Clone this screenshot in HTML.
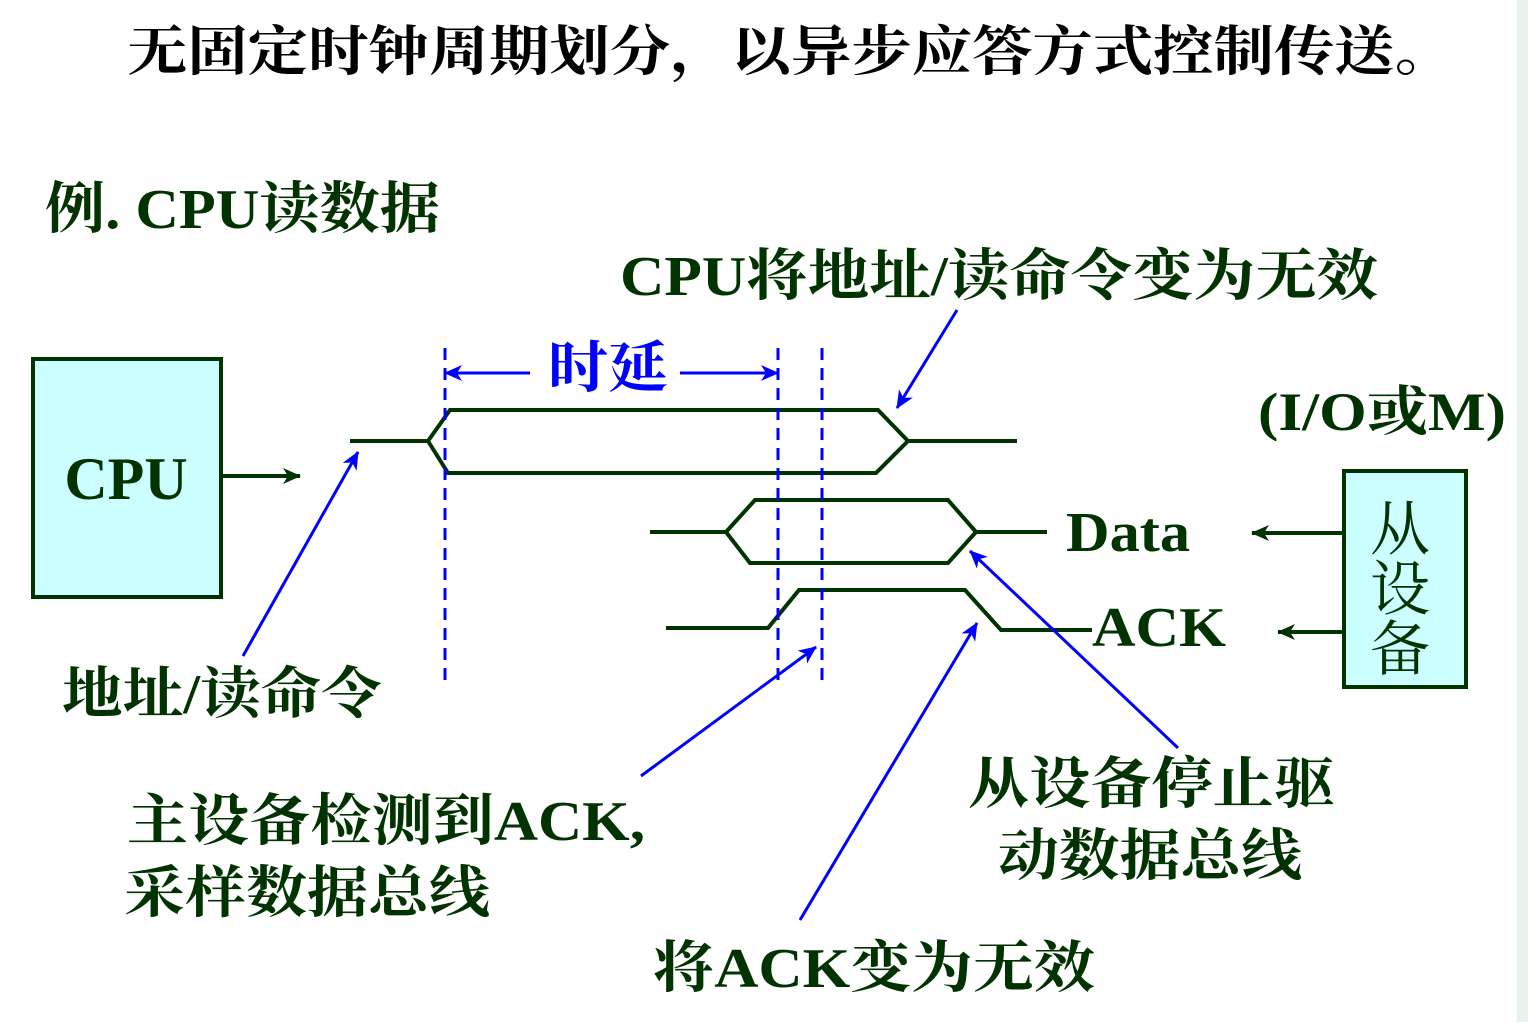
<!DOCTYPE html>
<html><head><meta charset="utf-8"><style>
html,body{margin:0;padding:0;background:#fff;}
svg{display:block;}
text{font-family:"Liberation Serif","Noto Serif CJK SC",serif;}
</style></head><body>
<svg width="1528" height="1022" viewBox="0 0 1528 1022" xmlns="http://www.w3.org/2000/svg">
<defs>
<marker id="bh" markerWidth="18" markerHeight="16" refX="17" refY="8" orient="auto" markerUnits="userSpaceOnUse"><path d="M0,0 L18,8 L0,16 L5,8 z" fill="#0000ff"/></marker>
<marker id="gh" markerWidth="18" markerHeight="16" refX="17" refY="8" orient="auto" markerUnits="userSpaceOnUse"><path d="M0,0 L18,8 L0,16 L5,8 z" fill="#003300"/></marker>
</defs>
<rect x="1517" y="0" width="11" height="1022" fill="#e9f1ed"/>
<text x="127" y="70" font-size="54" font-weight="bold" fill="#000" textLength="1328" lengthAdjust="spacingAndGlyphs">无固定时钟周期划分，以异步应答方式控制传送。</text>
<text x="45" y="228" font-size="56" font-weight="bold" fill="#003300" textLength="395" lengthAdjust="spacingAndGlyphs">例. CPU读数据</text>
<text x="620" y="295" font-size="56" font-weight="bold" fill="#003300" textLength="758" lengthAdjust="spacingAndGlyphs">CPU将地址/读命令变为无效</text>
<text x="1258" y="430" font-size="54" font-weight="bold" fill="#003300" textLength="248" lengthAdjust="spacingAndGlyphs">(I/O或M)</text>
<rect x="33" y="359" width="188" height="238" fill="#ccffff" stroke="#003300" stroke-width="4"/>
<text x="126" y="499" font-size="60" font-weight="bold" fill="#003300" text-anchor="middle">CPU</text>
<line x1="222" y1="476" x2="300" y2="476" stroke="#003300" stroke-width="4" marker-end="url(#gh)"/>
<rect x="1344" y="471" width="122" height="216" fill="#ccffff" stroke="#003300" stroke-width="4"/>
<text x="1400" y="550" font-size="60" fill="#003300" text-anchor="middle">从</text>
<text x="1400" y="610" font-size="60" fill="#003300" text-anchor="middle">设</text>
<text x="1400" y="670" font-size="60" fill="#003300" text-anchor="middle">备</text>
<line x1="1343" y1="533" x2="1252" y2="533" stroke="#003300" stroke-width="4" marker-end="url(#gh)"/>
<line x1="1343" y1="632" x2="1278" y2="632" stroke="#003300" stroke-width="4" marker-end="url(#gh)"/>
<g fill="none" stroke="#003300" stroke-width="4">
<path d="M350,441 L428,441 L450,410 L878,410 L908,441 L1017,441"/>
<path d="M428,441 L448,473 L876,473 L908,441"/>
<path d="M650,532 L726,532 L755,500 L948,500 L976,532 L1047,532"/>
<path d="M726,532 L750,563 L948,563 L976,532"/>
<path d="M666,628 L768,628 L799,590 L965,590 L1001,630 L1092,630"/>
</g>
<text x="1066" y="551" font-size="56" font-weight="bold" fill="#003300" textLength="124" lengthAdjust="spacingAndGlyphs">Data</text>
<text x="1092" y="646" font-size="56" font-weight="bold" fill="#003300" textLength="134" lengthAdjust="spacingAndGlyphs">ACK</text>
<g stroke="#0000ff" stroke-width="3" stroke-dasharray="12,8">
<line x1="445" y1="348" x2="445" y2="688"/>
<line x1="778" y1="348" x2="778" y2="688"/>
<line x1="822" y1="348" x2="822" y2="688"/>
</g>
<g stroke="#0000ff" stroke-width="3" fill="none">
<line x1="530" y1="373" x2="445" y2="373" marker-end="url(#bh)"/>
<line x1="680" y1="373" x2="778" y2="373" marker-end="url(#bh)"/>
<line x1="243" y1="656" x2="358" y2="452" marker-end="url(#bh)"/>
<line x1="957" y1="310" x2="897" y2="408" marker-end="url(#bh)"/>
<line x1="641" y1="776" x2="816" y2="647" marker-end="url(#bh)"/>
<line x1="800" y1="920" x2="977" y2="623" marker-end="url(#bh)"/>
<line x1="1178" y1="748" x2="970" y2="551" marker-end="url(#bh)"/>
</g>
<text x="548" y="387" font-size="56" font-weight="bold" fill="#0000ff" textLength="120" lengthAdjust="spacingAndGlyphs">时延</text>
<text x="62" y="713" font-size="56" font-weight="bold" fill="#003300" textLength="320" lengthAdjust="spacingAndGlyphs">地址/读命令</text>
<text x="127" y="840" font-size="56" font-weight="bold" fill="#003300" textLength="518" lengthAdjust="spacingAndGlyphs">主设备检测到ACK,</text>
<text x="124" y="912" font-size="56" font-weight="bold" fill="#003300" textLength="366" lengthAdjust="spacingAndGlyphs">采样数据总线</text>
<text x="968" y="803" font-size="56" font-weight="bold" fill="#003300" textLength="367" lengthAdjust="spacingAndGlyphs">从设备停止驱</text>
<text x="998" y="875" font-size="56" font-weight="bold" fill="#003300" textLength="304" lengthAdjust="spacingAndGlyphs">动数据总线</text>
<text x="653" y="987" font-size="56" font-weight="bold" fill="#003300" textLength="442" lengthAdjust="spacingAndGlyphs">将ACK变为无效</text>
</svg>
</body></html>
